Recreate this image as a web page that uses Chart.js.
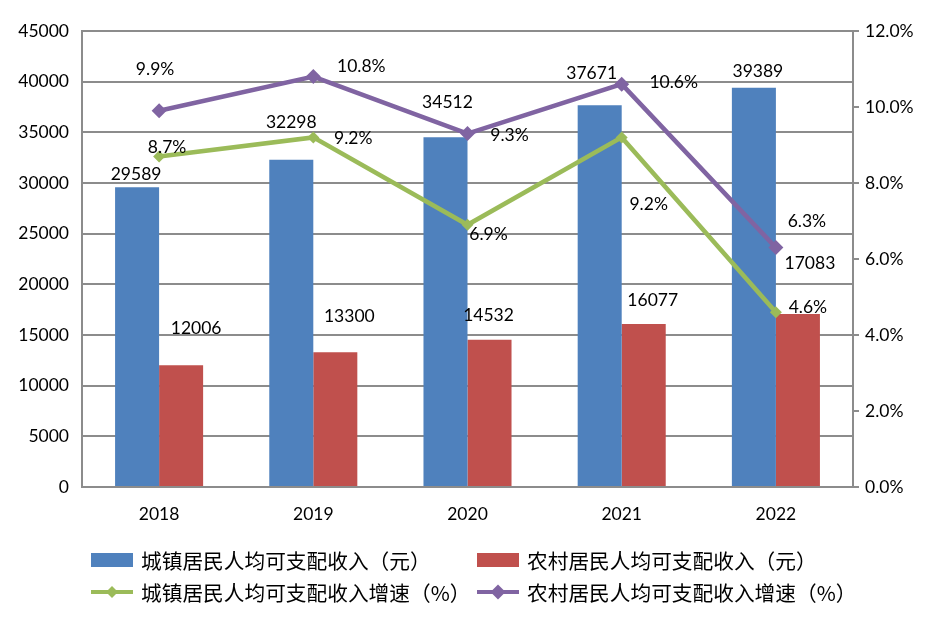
<!DOCTYPE html>
<html>
<head>
<meta charset="utf-8">
<script src="https://cdn.jsdelivr.net/npm/chart.js@4.4.1/dist/chart.umd.min.js"></script>
<style>
  html, body { margin: 0; background: #fff; }
</style>
</head>
<body>
<canvas id="c" width="936" height="625"></canvas>
<script>
const years       = ['2018', '2019', '2020', '2021', '2022'];
const urbanIncome = [29589, 32298, 34512, 37671, 39389];
const ruralIncome = [12006, 13300, 14532, 16077, 17083];
const urbanGrowth = [8.7, 9.2, 6.9, 9.2, 4.6];
const ruralGrowth = [9.9, 10.8, 9.3, 10.6, 6.3];
const incomeTicks = [0, 5000, 10000, 15000, 20000, 25000, 30000, 35000, 40000, 45000];
const growthTicks = [0, 2, 4, 6, 8, 10, 12];

const seriesNames = [
  '城镇居民人均可支配收入（元）',
  '农村居民人均可支配收入（元）',
  '城镇居民人均可支配收入增速（%）',
  '农村居民人均可支配收入增速（%）'
];

// hand-placed data labels, offset from each mark (dx, dy in px)
const labelShift = [
  { dx: [-1, 0, 2, -8, 4],    dy: [-13, -37, -35, -32, -16] },
  { dx: [15, 14, -1, 9, 12],  dy: [-37, -36, -24, -24, -51] },
  { dx: [8, 40, 21, 27, 32],  dy: [-9, 1, 10, 67, -5] },
  { dx: [-4, 48, 42, 52, 31], dy: [-41, -10, 2, -2, -26] }
];

// legend slots: [box x, row centre y]
const legendSlots = [[91, 560], [477, 560], [91, 592], [477, 592]];

const GRID = '#8c8c8c';
const NUM_FONT = { family: 'Lato, "Open Sans", sans-serif', size: 17.5 };

const dataLabels = {
  id: 'dataLabels',
  afterDatasetsDraw(chart) {
    const ctx = chart.ctx;
    ctx.save();
    ctx.font = `${NUM_FONT.size}px ${NUM_FONT.family}`;
    ctx.fillStyle = '#000';
    ctx.textAlign = 'center';
    ctx.textBaseline = 'middle';
    chart.data.datasets.forEach((ds, i) => {
      const meta = chart.getDatasetMeta(i);
      const sh = labelShift[i];
      meta.data.forEach((el, j) => {
        const v = ds.data[j];
        const txt = ds.type === 'line' ? v.toFixed(1) + '%' : String(v);
        ctx.fillText(txt, el.x + sh.dx[j], el.y + sh.dy[j]);
      });
    });
    ctx.restore();
  }
};

const gridLegend = {
  id: 'gridLegend',
  afterDraw(chart) {
    const ctx = chart.ctx;
    ctx.save();
    chart.data.datasets.forEach((ds, i) => {
      const [x, y] = legendSlots[i];
      if (ds.type === 'line') {
        ctx.strokeStyle = ds.borderColor;
        ctx.lineWidth = 4;
        ctx.beginPath();
        ctx.moveTo(x, y);
        ctx.lineTo(x + 42, y);
        ctx.stroke();
        const r = ds.pointRadius;
        ctx.fillStyle = ds.borderColor;
        ctx.beginPath();
        ctx.moveTo(x + 21, y - r);
        ctx.lineTo(x + 21 + r, y);
        ctx.lineTo(x + 21, y + r);
        ctx.lineTo(x + 21 - r, y);
        ctx.closePath();
        ctx.fill();
      } else {
        ctx.fillStyle = ds.backgroundColor;
        ctx.fillRect(x, y - 7, 42, 14);
      }
      ctx.fillStyle = '#000';
      ctx.font = '20.7px "Noto Sans CJK SC", sans-serif';
      ctx.textAlign = 'left';
      ctx.textBaseline = 'middle';
      ctx.fillText(ds.label, x + 50, y + 1);
    });
    ctx.restore();
  }
};

new Chart(document.getElementById('c'), {
  type: 'bar',
  data: {
    labels: years,
    datasets: [
      {
        type: 'bar', label: seriesNames[0], data: urbanIncome, yAxisID: 'y',
        backgroundColor: '#4F81BD', categoryPercentage: 0.571, barPercentage: 1, order: 2
      },
      {
        type: 'bar', label: seriesNames[1], data: ruralIncome, yAxisID: 'y',
        backgroundColor: '#C0504D', categoryPercentage: 0.571, barPercentage: 1, order: 2
      },
      {
        type: 'line', label: seriesNames[2], data: urbanGrowth, yAxisID: 'y1',
        borderColor: '#9BBB59', backgroundColor: '#9BBB59', borderWidth: 4.5,
        pointStyle: 'rectRot', pointRadius: 6, pointBorderWidth: 0, tension: 0, order: 1
      },
      {
        type: 'line', label: seriesNames[3], data: ruralGrowth, yAxisID: 'y1',
        borderColor: '#8064A2', backgroundColor: '#8064A2', borderWidth: 4.5,
        pointStyle: 'rectRot', pointRadius: 7.5, pointBorderWidth: 0, tension: 0, order: 1
      }
    ]
  },
  options: {
    responsive: false,
    animation: false,
    devicePixelRatio: 1,
    layout: { padding: { top: 31, bottom: 88, left: 0, right: 0 } },
    plugins: { legend: { display: false }, tooltip: { enabled: false } },
    scales: {
      x: {
        grid: { display: false, drawTicks: false },
        border: { display: true, color: GRID, width: 2 },
        ticks: { color: '#000', font: NUM_FONT, padding: 17 },
        afterFit(s) { s.height = 50; }
      },
      y: {
        position: 'left', min: 0, max: 45000,
        afterBuildTicks(s) { s.ticks = incomeTicks.map(v => ({ value: v })); },
        grid: { color: GRID, lineWidth: 2, drawTicks: false },
        border: { color: GRID, width: 2 },
        ticks: { color: '#000', font: NUM_FONT, padding: 13, callback: v => String(v) },
        afterFit(s) { s.width = 82; }
      },
      y1: {
        position: 'right', min: 0, max: 12,
        afterBuildTicks(s) { s.ticks = growthTicks.map(v => ({ value: v })); },
        grid: { drawOnChartArea: false, color: GRID, lineWidth: 2, tickLength: 6 },
        border: { color: GRID, width: 2 },
        ticks: { color: '#000', font: NUM_FONT, padding: 6, callback: v => v.toFixed(1) + '%' },
        afterFit(s) { s.width = 83; }
      }
    }
  },
  plugins: [dataLabels, gridLegend]
});
</script>
</body>
</html>
